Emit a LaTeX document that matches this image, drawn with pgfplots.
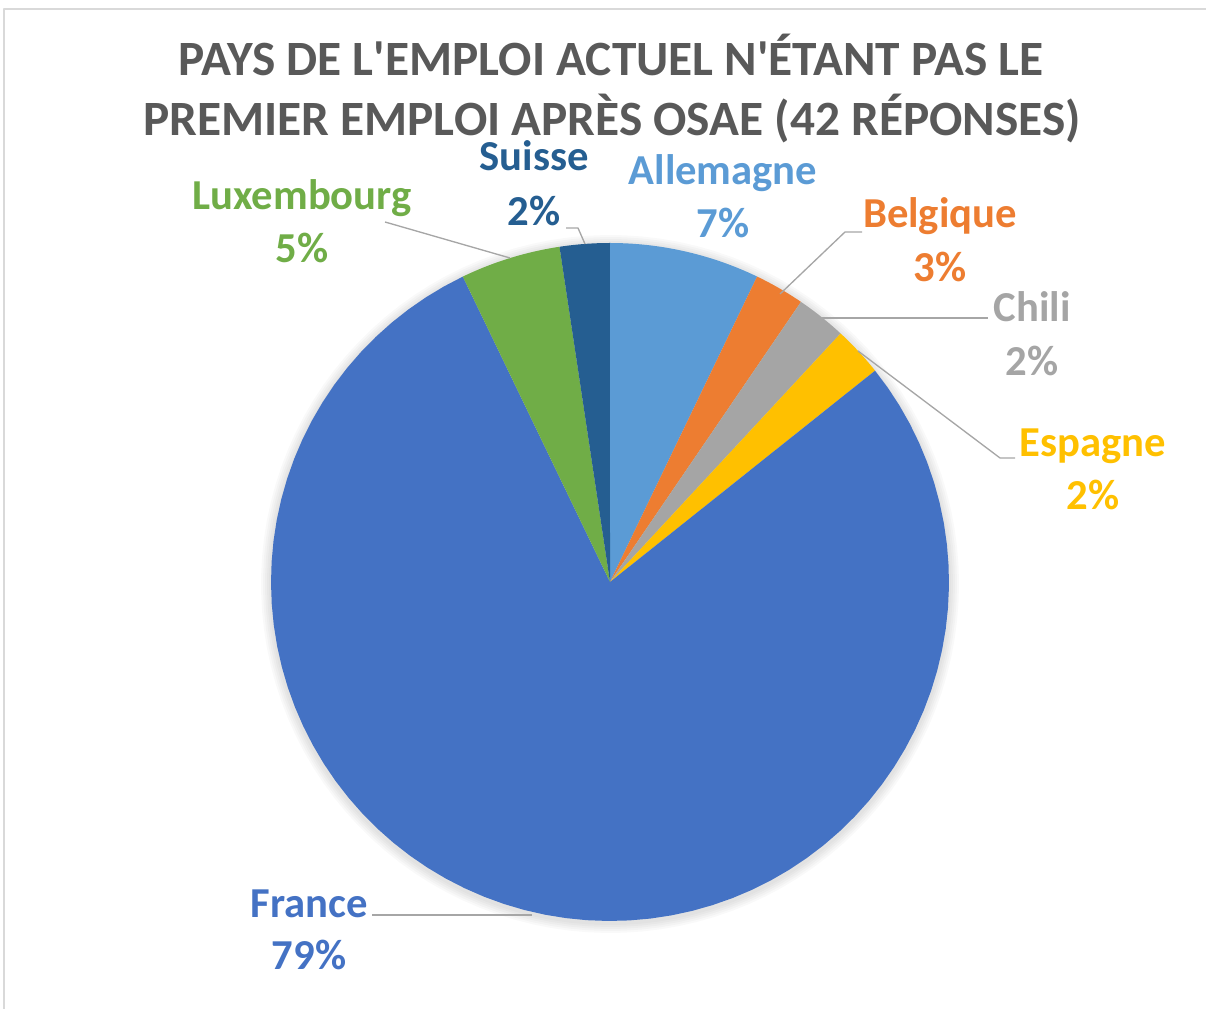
\documentclass[border=0pt]{standalone}
\usepackage{pgfplots}
\pgfplotsset{compat=1.18}
\usepackage{fontspec}
\setmainfont{Carlito}
\definecolor{cAll}{HTML}{5B9BD5}
\definecolor{cBel}{HTML}{ED7D31}
\definecolor{cChi}{HTML}{A5A5A5}
\definecolor{cEsp}{HTML}{FFC000}
\definecolor{cFra}{HTML}{4472C4}
\definecolor{cLux}{HTML}{70AD47}
\definecolor{cSui}{HTML}{255E91}
\definecolor{cTitle}{HTML}{595959}
\definecolor{cLead}{HTML}{A6A6A6}
% counts (42 responses), clockwise from 12 o'clock
\def\nAll{3}\def\nBel{1}\def\nChi{1}\def\nEsp{1}\def\nFra{33}\def\nLux{2}\def\nSui{1}
\def\nTot{42}
\newcommand\slice[3]{% start count, count, colour
  \addplot[fill=#3, draw=none, domain={90-360*(#1+#2)/\nTot}:{90-360*(#1)/\nTot}, samples=80, variable=\t]
    ({339*cos(\t)},{339*sin(\t)}) -- (axis cs:0,0) -- cycle;
}
\begin{document}
\begin{tikzpicture}
\begin{axis}[
  x=0.75pt, y=0.75pt,
  xmin=-610, xmax=596, ymin=-427, ymax=582,
  hide axis, clip=false,
  every axis plot/.append style={line join=round},
]
\coordinate (bl) at (axis cs:-610,-427);
\coordinate (tr) at (axis cs:596,582);
% shadow
\foreach \k in {10,8,6,4,2}{
  \addplot[fill=black, fill opacity=0.025, draw=none, domain=0:360, samples=120, variable=\t]
    ({(339+\k)*cos(\t)},{(339+\k)*sin(\t)-2}) -- cycle;
}
\slice{0}{\nAll}{cAll}
\slice{3}{\nBel}{cBel}
\slice{4}{\nChi}{cChi}
\slice{5}{\nEsp}{cEsp}
\slice{6}{\nFra}{cFra}
\slice{39}{\nLux}{cLux}
\slice{41}{\nSui}{cSui}
% leader lines
\addplot[cLead, line width=1pt] coordinates {(-225,360) (-100,324)};
\addplot[cLead, line width=1pt] coordinates {(-44,354) (-32,354) (-25,338)};
\addplot[cLead, line width=1pt] coordinates {(252,350) (235,350) (170,288)};
\addplot[cLead, line width=1pt] coordinates {(211,264) (378,264)};
\addplot[cLead, line width=1pt] coordinates {(248,231) (390,124) (405,124)};
\addplot[cLead, line width=1pt] coordinates {(-238,-333) (-78,-333)};
% frame
\addplot[color=black!15, line width=1.2pt] coordinates {(-606,-427) (-606,573) (596,573)};
% title
\node[anchor=base, inner sep=0pt, text=cTitle, font=\fontsize{37}{37}\selectfont\bfseries] at (axis cs:1,506) {PAYS DE L\textquotesingle EMPLOI ACTUEL N\textquotesingle ÉTANT PAS LE};
\node[anchor=base, inner sep=0pt, text=cTitle, font=\fontsize{37}{37}\selectfont\bfseries] at (axis cs:2,446) {PREMIER EMPLOI APRÈS OSAE (42 RÉPONSES)};
% labels
\tikzset{lab/.style={anchor=base, inner sep=0pt, font=\fontsize{32}{32}\selectfont\bfseries}}
\node[lab, text=cAll] at (axis cs:113,397) {Allemagne};
\node[lab, text=cAll] at (axis cs:113,344) {7\%};
\node[lab, text=cBel] at (axis cs:330,354) {Belgique};
\node[lab, text=cBel] at (axis cs:330,300) {3\%};
\node[lab, text=cChi] at (axis cs:422,260) {Chili};
\node[lab, text=cChi] at (axis cs:422,206) {2\%};
\node[lab, text=cEsp] at (axis cs:483,125) {Espagne};
\node[lab, text=cEsp] at (axis cs:483,72) {2\%};
\node[lab, text=cFra] at (axis cs:-301,-336) {France};
\node[lab, text=cFra] at (axis cs:-301,-388) {79\%};
\node[lab, text=cLux] at (axis cs:-308,372) {Luxembourg};
\node[lab, text=cLux] at (axis cs:-308,319) {5\%};
\node[lab, text=cSui] at (axis cs:-76,411) {Suisse};
\node[lab, text=cSui] at (axis cs:-76,356) {2\%};
\end{axis}
\pgfresetboundingbox
\useasboundingbox (bl) rectangle (tr);
\end{tikzpicture}
\end{document}
